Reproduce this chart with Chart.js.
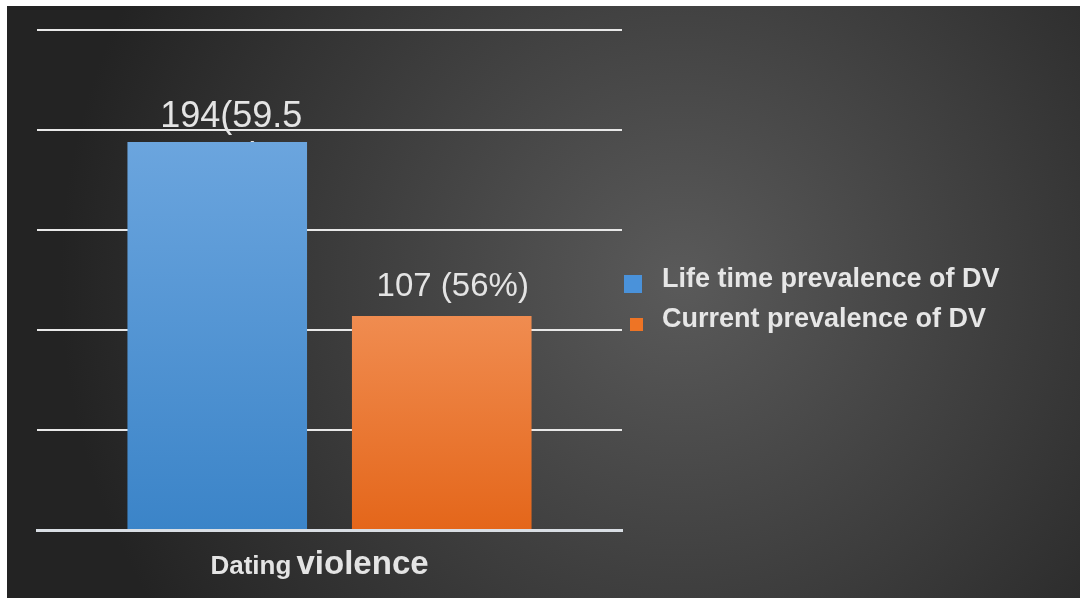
<!DOCTYPE html>
<html>
<head>
<meta charset="utf-8">
<script src="https://cdn.jsdelivr.net/npm/chart.js@4"></script>
<style>
  html, body { margin: 0; padding: 0; background: #fff; }
  #wrap { width: 1080px; height: 598px; }
</style>
</head>
<body>
<div id="wrap"><canvas id="myChart" width="1080" height="598"></canvas></div>
<script>
const categories = ['Dating violence'];
const seriesNames = ['Life time prevalence of DV', 'Current prevalence of DV'];
const lifetime = [194];
const current = [107];
const lifetimeLabels = ['194(59.5', '%)'];
const currentLabels = ['107 (56%)'];
const yMin = 0, yMax = 250, yStep = 50;

const FONT = '"Liberation Sans", Arial, sans-serif';

// gradient fill for each bar, top to bottom
function barFill(top, bottom) {
    return function (ctx) {
        const chart = ctx.chart;
        const y = chart.scales.y;
        if (!chart.chartArea || !y || ctx.raw == null) return bottom;
        const y0 = y.getPixelForValue(ctx.raw);
        const y1 = y.getPixelForValue(0);
        const g = chart.ctx.createLinearGradient(0, y0, 0, y1);
        g.addColorStop(0, top);
        g.addColorStop(1, bottom);
        return g;
    };
}

// dark radial background with the white frame at top / left
const background = {
    id: 'background',
    beforeDraw(chart) {
        const c = chart.ctx;
        c.save();
        c.fillStyle = '#ffffff';
        c.fillRect(0, 0, chart.width, chart.height);
        const g = c.createRadialGradient(680, 280, 0, 680, 280, 620);
        g.addColorStop(0, '#5a5a5a');
        g.addColorStop(0.55, '#3c3c3c');
        g.addColorStop(1, '#232323');
        c.fillStyle = g;
        c.fillRect(7, 6, chart.width - 7, chart.height - 6);
        c.restore();
    }
};

// value labels are drawn before the bars so the blue bar hides the wrapped line
const valueText = {
    id: 'valueText',
    beforeDatasetsDraw(chart) {
        const c = chart.ctx;
        c.save();
        c.fillStyle = '#e4e4e4';
        c.textAlign = 'center';
        c.textBaseline = 'alphabetic';
        const b0 = chart.getDatasetMeta(0).data[0];
        c.font = '36px ' + FONT;
        c.fillText(lifetimeLabels[0], b0.x + 14, b0.y - 15);
        c.fillText(lifetimeLabels[1], b0.x + 23, b0.y + 26);
        const b1 = chart.getDatasetMeta(1).data[0];
        c.font = '33px ' + FONT;
        c.fillText(currentLabels[0], b1.x + 11, b1.y - 20);
        c.restore();
    }
};

// category label under the axis, "Dating" smaller than "violence"
const categoryText = {
    id: 'categoryText',
    afterDraw(chart) {
        const c = chart.ctx;
        const x = chart.scales.x.getPixelForValue(0) - 9;
        const words = categories[0].split(' ');
        c.save();
        c.fillStyle = '#e4e4e4';
        c.textBaseline = 'alphabetic';
        c.font = 'bold 26px ' + FONT;
        const w1 = c.measureText(words[0] + ' ').width;
        c.font = 'bold 33px ' + FONT;
        const w2 = c.measureText(words[1]).width;
        let left = x - (w1 + w2) / 2;
        c.font = 'bold 26px ' + FONT;
        c.fillText(words[0], left, 574);
        c.font = 'bold 33px ' + FONT;
        c.fillText(words[1], left + w1 - 2, 574);
        c.restore();
    }
};

// legend at right of plot
const sideLegend = {
    id: 'sideLegend',
    afterDraw(chart) {
        const c = chart.ctx;
        const boxes = [
            { x: 624, y: 275, s: 18, ty: 287 },
            { x: 630, y: 318, s: 13, ty: 327 }
        ];
        c.save();
        c.font = 'bold 27px ' + FONT;
        c.textBaseline = 'alphabetic';
        chart.data.datasets.forEach(function (ds, i) {
            const b = boxes[i];
            c.fillStyle = ds.legendColor;
            c.fillRect(b.x, b.y, b.s, b.s);
            c.fillStyle = '#e6e6e6';
            c.fillText(ds.label, 662, b.ty);
        });
        c.restore();
    }
};

const chartdata = {
    labels: categories,
    datasets: [{
        label: seriesNames[0],
        data: lifetime,
        backgroundColor: barFill('#6ba5de', '#3b84c8'),
        legendColor: '#4a92da'
    },
    {
        label: seriesNames[1],
        data: current,
        backgroundColor: barFill('#f08c50', '#e4661a'),
        legendColor: '#ee7425'
    }]
};

const config = {
    type: 'bar',
    data: chartdata,
    options: {
        responsive: false,
        animation: false,
        categoryPercentage: 0.7675,
        barPercentage: 0.8,
        layout: {
            padding: { left: 37, top: 30, right: 458, bottom: 60 }
        },
        plugins: {
            legend: { display: false },
            tooltip: { enabled: false }
        },
        scales: {
            x: {
                grid: { display: false },
                ticks: { display: false },
                border: { display: true, color: '#d9dee4', width: 3 }
            },
            y: {
                min: yMin,
                max: yMax,
                ticks: { display: false, stepSize: yStep },
                grid: { color: '#e8e8e8', lineWidth: 2, drawTicks: false },
                border: { display: false }
            }
        }
    },
    plugins: [background, valueText, categoryText, sideLegend]
};

var myChart = new Chart(document.getElementById('myChart'), config);
</script>
</body>
</html>
